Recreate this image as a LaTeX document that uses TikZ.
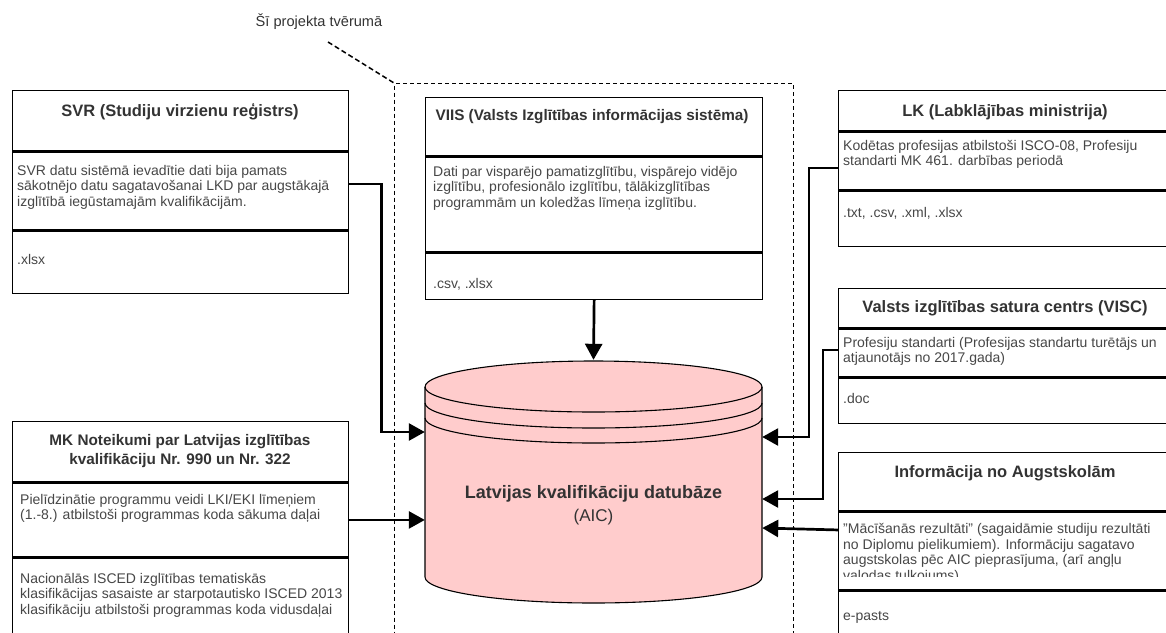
\documentclass[tikz,border=0pt]{standalone}
\usepackage{fontspec}
\setmainfont{Liberation Sans}
\usetikzlibrary{arrows.meta}

\definecolor{dbpink}{HTML}{FFCCCC}
\definecolor{txtgray}{HTML}{333333}

\tikzset{
  sect/.style={draw, line width=1.3pt, inner sep=0pt, anchor=north west, fill=white, minimum width=336pt},
  ttl/.style={font=\fontsize{16.5}{19}\selectfont\bfseries, text=txtgray, inner sep=0pt, align=center},
  ttlsmall/.style={ttl, font=\fontsize{15.3}{18.5}\selectfont\bfseries},
  txt/.style={font=\fontsize{14}{15.6}\selectfont, text=black!72, inner sep=0pt, align=left, anchor=north west},
  fmt/.style={font=\fontsize{14}{16}\selectfont, text=black!72, inner sep=0pt, anchor=west},
  conn/.style={line width=2.7pt, -{Triangle[length=16pt,width=17pt]}},
  scopebox/.style={draw, line width=1pt, dash pattern=on 4pt off 3pt, inner sep=0pt, anchor=north west},
}

\begin{document}
\begin{tikzpicture}[x=1pt, y=-1pt]
    \clip (0,0) rectangle (1166,632);

    % project scope
    \node[scopebox, minimum width=399pt, minimum height=600pt] (scope) at (394,83) {};
    \node[font=\fontsize{14.6}{16}\selectfont, text=txtgray, inner sep=0pt] (scopeLbl) at (319,22) {Šī projekta tvērumā};
    \coordinate (scopeTail) at (328,42);
    \draw[line width=1.5pt, dash pattern=on 5pt off 3pt] (scopeTail) -- (scope.north west);

    % SVR
    \node[sect, minimum height=60pt] (svrHead) at (12,90) {};
    \node[sect, minimum height=78pt] (svrBody) at (svrHead.south west) {};
    \node[sect, minimum height=62pt] (svrFmt) at (svrBody.south west) {};
    \node[ttl] (svrTitle) at (180,112) {SVR (Studiju virzienu reģistrs)};
    \node[txt] (svrText) at (17,165) {SVR datu sistēmā ievadītie dati bija pamats\\sākotnējo datu sagatavošanai LKD par augstākajā\\izglītībā iegūstamajām kvalifikācijām.};
    \node[fmt] (svrFile) at (17,259) {.xlsx};

    % MK
    \node[sect, minimum height=60pt] (mkHead) at (12,421) {};
    \node[sect, minimum height=74pt] (mkBody) at (mkHead.south west) {};
    \node[sect, minimum height=120pt] (mkFmt) at (mkBody.south west) {};
    \node[ttlsmall] (mkTitle) at (180,451) {MK Noteikumi par Latvijas izglītības\\kvalifikāciju Nr. 990 un Nr. 322};
    \node[txt] (mkText) at (20,494) {Pielīdzinātie programmu veidi LKI/EKI līmeņiem\\(1.-8.) atbilstoši programmas koda sākuma daļai};
    \node[txt] (mkText2) at (20,573) {Nacionālās ISCED izglītības tematiskās\\klasifikācijas sasaiste ar starpotautisko ISCED 2013\\klasifikāciju atbilstoši programmas koda vidusdaļai};

    % VIIS
    \node[sect, minimum width=337pt, minimum height=58pt] (viisHead) at (425,97) {};
    \node[sect, minimum width=337pt, minimum height=95pt] (viisBody) at (viisHead.south west) {};
    \node[sect, minimum width=337pt, minimum height=46pt] (viisFmt) at (viisBody.south west) {};
    \node[ttlsmall] (viisTitle) at (592,117) {VIIS (Valsts Izglītības informācijas sistēma)};
    \node[txt] (viisText) at (433,166) {Dati par visparējo pamatizglītību, vispārejo vidējo\\izglītību, profesionālo izglītību, tālākizglītības\\programmām un koledžas līmeņa izglītību.};
    \node[fmt] (viisFile) at (433,284) {.csv, .xlsx};

    % LK
    \node[sect, minimum height=40pt] (lkHead) at (838,90) {};
    \node[sect, minimum height=58pt] (lkBody) at (lkHead.south west) {};
    \node[sect, minimum height=55pt] (lkFmt) at (lkBody.south west) {};
    \node[ttl] (lkTitle) at (1005,112) {LK (Labklājības ministrija)};
    \node[txt] (lkText) at (843,140) {Kodētas profesijas atbilstoši ISCO-08, Profesiju\\standarti MK 461. darbības periodā};
    \node[fmt] (lkFile) at (843,213) {.txt, .csv, .xml, .xlsx};

    % VISC
    \node[sect, minimum height=39pt] (viscHead) at (838,288) {};
    \node[sect, minimum height=48pt] (viscBody) at (viscHead.south west) {};
    \node[sect, minimum height=45pt] (viscFmt) at (viscBody.south west) {};
    \node[ttl] (viscTitle) at (1005,308) {Valsts izglītības satura centrs (VISC)};
    \node[txt] (viscText) at (843,337) {Profesiju standarti (Profesijas standartu turētājs un\\atjaunotājs no 2017.gada)};
    \node[fmt] (viscFile) at (843,398) {.doc};

    % Augstskolas
    \node[sect, minimum height=58pt] (augHead) at (838,452) {};
    \node[sect, minimum height=78pt] (augBody) at (augHead.south west) {};
    \begin{scope}
        \clip (840,512) rectangle (1166,576);
        \node[txt] (augText) at (843,523) {"Mācīšanās rezultāti" (sagaidāmie studiju rezultāti\\no Diplomu pielikumiem). Informāciju sagatavo\\augstskolas pēc AIC pieprasījuma, (arī angļu\\valodas tulkojums)};
    \end{scope}
    \node[sect, minimum height=64pt] (augFmt) at (augBody.south west) {};
    \node[ttl] (augTitle) at (1005,473) {Informācija no Augstskolām};
    \node[fmt] (augFile) at (843,617) {e-pasts};

    % database
    \draw[fill=dbpink, line width=1.1pt] (425,387) -- (425,577)
        arc[start angle=180, end angle=0, x radius=168.5, y radius=26] -- (762,387)
        arc[start angle=0, end angle=-180, x radius=168.5, y radius=26] -- cycle;
    \foreach \dy in {0,16,31}
        \draw[line width=1.1pt] (425,387+\dy) arc[start angle=180, end angle=0, x radius=168.5, y radius=25];
    \node[inner sep=0pt, minimum width=337pt, minimum height=243pt] (aic) at (593.5,481.5) {};
    \node[inner sep=0pt, align=center, text=txtgray, font=\fontsize{17}{23}\selectfont] (aicLbl) at (593.5,505) {{\fontsize{18}{23}\selectfont\bfseries Latvijas kvalifikāciju datubāze}\\(AIC)};

    % connectors
    \draw[conn] ([yshift=7pt]svrBody.east) -- ++(32,0) |- ([yshift=49.5pt]aic.west);
    \draw[conn] (mkBody.east) -- (mkBody.east -| aic.west);
    \draw[conn] (viisFmt.south) -- (aic.north);
    \draw[conn] ([yshift=-7pt]lkBody.west) -- ++(-29,0) |- ([yshift=44.5pt]aic.east);
    \draw[conn] ([yshift=3pt]viscBody.west) -- ++(-15,0) |- ([yshift=-17.5pt]aic.east);
    \draw[conn] ([yshift=21pt]augBody.west) -- ([yshift=-46.5pt]aic.east);
\end{tikzpicture}
\end{document}
